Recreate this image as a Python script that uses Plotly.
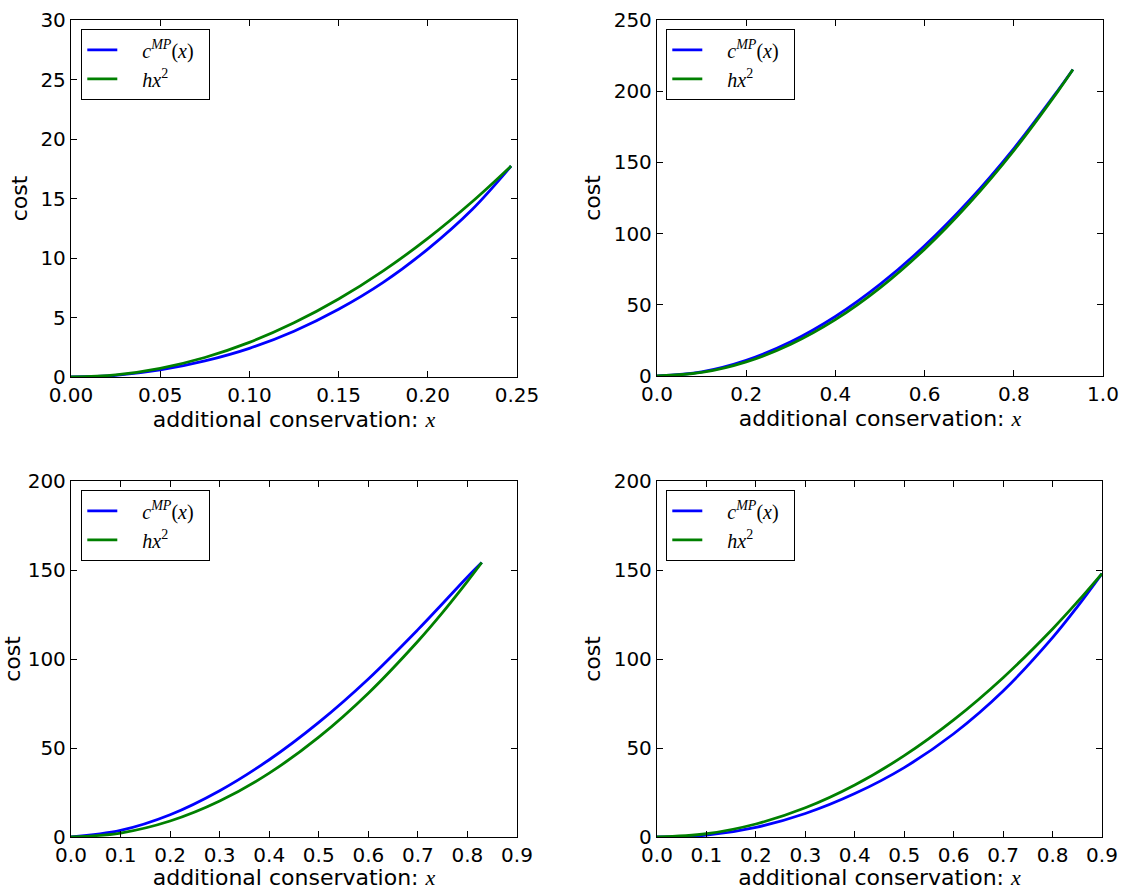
import plotly.graph_objects as go

# ---- data ----
x1 = [0, 0.025, 0.05, 0.075, 0.1, 0.125, 0.15, 0.175, 0.2, 0.225, 0.2467]
blue1 = [0, 0.14, 0.59, 1.35, 2.41, 3.85, 5.69, 7.95, 10.75, 14.1, 17.73]
green1 = [0, 0.18, 0.73, 1.64, 2.91, 4.55, 6.55, 8.92, 11.65, 14.75, 17.73]

x2 = [0, 0.1, 0.2, 0.3, 0.4, 0.5, 0.6, 0.7, 0.8, 0.9, 0.9326]
blue2 = [0, 2.9, 11.0, 24.0, 41.8, 64.3, 91.4, 123.2, 159.7, 201.0, 215.2]
green2 = [0, 2.47, 9.9, 22.3, 39.6, 61.9, 89.1, 121.3, 158.3, 200.4, 215.2]

x3 = [0, 0.1, 0.2, 0.3, 0.4, 0.5, 0.6, 0.7, 0.75, 0.8, 0.8289]
blue3 = [0, 3.7, 12.5, 26.0, 43.4, 64.4, 88.8, 116.5, 131.2, 146.1, 154.2]
green3 = [0, 2.24, 8.98, 20.2, 35.9, 56.1, 80.8, 110.0, 126.2, 143.6, 154.2]

x4 = [0, 0.1, 0.2, 0.3, 0.4, 0.5, 0.6, 0.7, 0.8, 0.85, 0.9]
blue4 = [0, 1.0, 5.4, 13.2, 24.4, 39.0, 58.0, 82.0, 112.0, 129.3, 148.0]
green4 = [0, 1.83, 7.31, 16.4, 29.2, 45.7, 65.8, 89.5, 116.9, 132.0, 148.0]

xranges = [[0, 0.25], [0, 1.0], [0, 0.9], [0, 0.9]]
xdticks = [0.05, 0.2, 0.1, 0.1]
xformats = [".2f", ".1f", ".1f", ".1f"]
yranges = [[0, 30], [0, 250], [0, 200], [0, 200]]
ydticks = [5, 50, 50, 50]

label_blue = "&nbsp;&nbsp;&nbsp;&nbsp;<span style='font-family:Liberation Serif'><i>c</i><sup><i>MP</i></sup>(<i>x</i>)</span>&nbsp;&nbsp;"
label_green = "&nbsp;&nbsp;&nbsp;&nbsp;<span style='font-family:Liberation Serif'><i>hx</i><sup>2</sup></span>"
xlabel = "additional conservation: <span style='font-family:Liberation Serif'><i>x</i></span>"
ylabel = "cost"

W, H = 1123, 890
# plot areas in pixels (left, right, top, bottom)
boxes = [(71, 517, 20, 377), (657, 1103, 20, 376), (71, 517, 481, 837), (657, 1102, 481, 837)]
legpos = [(81, 29), (666, 29), (81, 490), (666, 490)]

series = [(x1, blue1, green1), (x2, blue2, green2), (x3, blue3, green3), (x4, blue4, green4)]

fig = go.Figure()
layout = dict(width=W, height=H, margin=dict(l=0, r=0, t=0, b=0, autoexpand=False),
              paper_bgcolor="white", plot_bgcolor="white", template="none",
              font=dict(family="DejaVu Sans", size=20, color="black"))

for i, (xs, b, g) in enumerate(series):
    n = "" if i == 0 else str(i + 1)
    leg = "legend" + n
    fig.add_trace(go.Scatter(x=xs, y=b, mode="lines", name=label_blue,
                             line=dict(color="#0000ff", width=2.8, shape="spline"),
                             xaxis="x" + n, yaxis="y" + n, legend=leg))
    fig.add_trace(go.Scatter(x=xs, y=g, mode="lines", name=label_green,
                             line=dict(color="#008000", width=2.8, shape="spline"),
                             xaxis="x" + n, yaxis="y" + n, legend=leg))
    l, r, t, bt = boxes[i]
    common = dict(showgrid=False, zeroline=False, showline=True, linecolor="black",
                  linewidth=1.3, mirror="ticks", ticks="inside", ticklen=6,
                  tickcolor="black", tickwidth=1, tickfont=dict(size=20),
                  automargin=False)
    layout["xaxis" + n] = dict(domain=[l / W, r / W], range=xranges[i], dtick=xdticks[i],
                               tick0=0, tickformat=xformats[i], anchor="y" + n,
                               title=dict(text=xlabel, font=dict(size=22), standoff=4), **common)
    layout["yaxis" + n] = dict(domain=[1 - bt / H, 1 - t / H], range=yranges[i], dtick=ydticks[i],
                               tick0=0, anchor="x" + n,
                               title=dict(text=ylabel, font=dict(size=22), standoff=6), **common)
    lx, ly = legpos[i]
    layout[leg] = dict(x=lx / W, y=1 - ly / H, xanchor="left", yanchor="top",
                       bgcolor="white", bordercolor="black", borderwidth=1.3,
                       font=dict(size=20, family="Liberation Serif"),
                       itemwidth=30, tracegroupgap=0)

fig.update_layout(**layout)
fig.update_layout(showlegend=True)
fig.write_html("out.html")
